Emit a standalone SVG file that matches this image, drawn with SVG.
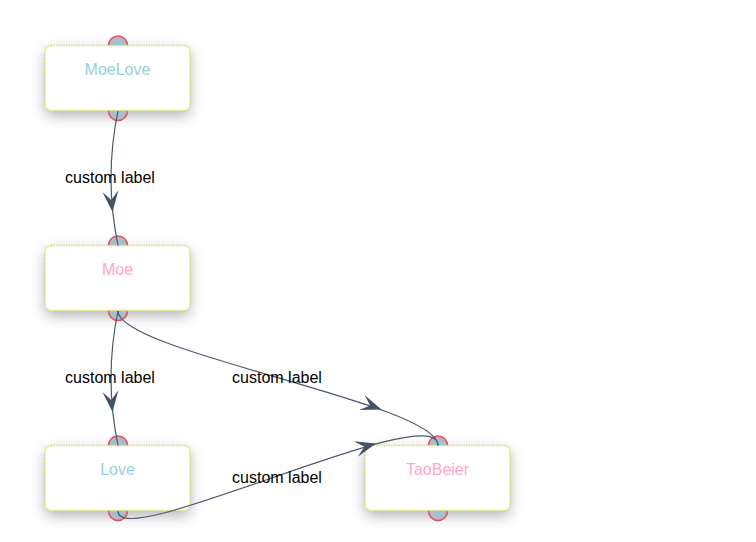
<svg xmlns="http://www.w3.org/2000/svg" width="756" height="542" viewBox="0 0 756 542">
<style>
.shd{fill:#ffffff;filter:url(#sh)}
.box{fill:#ffffff;stroke:#d6df68;stroke-width:1.5;stroke-dasharray:1.5 1}
.anc{fill:#aabdcc;stroke:#e4505c;stroke-width:1.5}
.nt{font-family:"Liberation Sans",Arial,sans-serif;font-size:16px;text-anchor:middle}
.blue{fill:#98d0d8}
.pink{fill:#ffa6c8}
.edge{fill:none;stroke:#4a5a6d;stroke-width:1.2}
.arr{fill:#435264}
.lbl{font-family:"Liberation Sans",Arial,sans-serif;font-size:16px;fill:#000000;text-anchor:middle}
</style>
<defs>
<filter id="sh" x="-30%" y="-50%" width="160%" height="210%">
<feDropShadow dx="0" dy="5" stdDeviation="7" flood-color="#000000" flood-opacity="0.3"/>
</filter>
<path id="ah" d="M0,0 L-21,-8 L-12,0 L-21,8 Z"/>
</defs>
<g id="node-moelove">
<rect class="shd" x="45" y="45.5" width="145" height="65" rx="6"/>
<circle class="anc" cx="118" cy="45.5" r="9.5"/>
<circle class="anc" cx="118" cy="111" r="9.5"/>
<rect class="box" x="45" y="45.5" width="145" height="65" rx="6"/>
<text class="nt blue" x="117.5" y="75">MoeLove</text>
</g>
<g id="node-moe">
<rect class="shd" x="45" y="245.5" width="145" height="65" rx="6"/>
<circle class="anc" cx="118" cy="245.5" r="9.5"/>
<circle class="anc" cx="118" cy="311" r="9.5"/>
<rect class="box" x="45" y="245.5" width="145" height="65" rx="6"/>
<text class="nt pink" x="117.5" y="275">Moe</text>
</g>
<g id="node-love">
<rect class="shd" x="45" y="445.5" width="145" height="65" rx="6"/>
<circle class="anc" cx="118" cy="445.5" r="9.5"/>
<circle class="anc" cx="118" cy="511" r="9.5"/>
<rect class="box" x="45" y="445.5" width="145" height="65" rx="6"/>
<text class="nt blue" x="117.5" y="475">Love</text>
</g>
<g id="node-taobeier">
<rect class="shd" x="365" y="445.5" width="145" height="65" rx="6"/>
<circle class="anc" cx="438" cy="445.5" r="9.5"/>
<circle class="anc" cx="438" cy="511" r="9.5"/>
<rect class="box" x="365" y="445.5" width="145" height="65" rx="6"/>
<text class="nt pink" x="437.5" y="475">TaoBeier</text>
</g>
<g id="connectors">
<path class="edge" d="M118,111 Q104,178 118,245.5"/>
<use href="#ah" class="arr" transform="translate(112.5,212) rotate(84.3)"/>
<text class="lbl" x="110" y="183">custom label</text>
<path class="edge" d="M118,311 Q104,378 118,445.5"/>
<use href="#ah" class="arr" transform="translate(112.5,412) rotate(84.3)"/>
<text class="lbl" x="110" y="383">custom label</text>
<path class="edge" d="M118,311 C118,352 438,403 438,445.5"/>
<use href="#ah" class="arr" transform="translate(381.5,409.6) rotate(19.9)"/>
<text class="lbl" x="277" y="383">custom label</text>
<path class="edge" d="M118,511 C118,554 438,396 438,445.5"/>
<use href="#ah" class="arr" transform="translate(376,443.5) rotate(-15.2)"/>
<text class="lbl" x="277" y="483">custom label</text>
</g>
</svg>
